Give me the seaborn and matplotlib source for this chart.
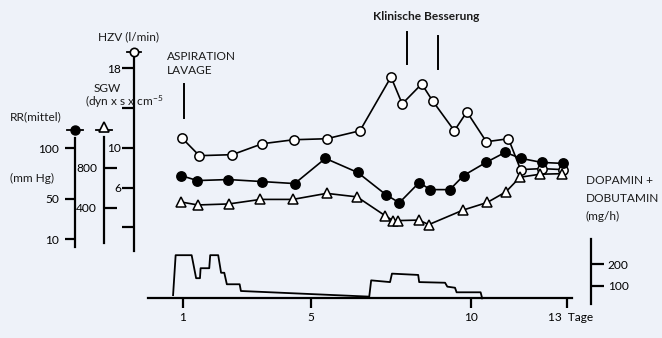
import matplotlib
matplotlib.use('Agg')
import matplotlib.pyplot as plt
import matplotlib.transforms as mtransforms
import seaborn as sns

# Werte (Tag, Wert)
hzv_day = [0.96, 1.51, 2.54, 3.48, 4.46, 5.49, 6.53, 7.50, 7.85, 8.46, 8.80,
           9.48, 9.87, 10.48, 11.17, 11.55, 12.21, 12.87]
hzv = [11.0, 9.2, 9.3, 10.4, 10.8, 10.9, 11.7, 17.1, 14.4, 16.4, 14.7,
       11.7, 13.6, 10.6, 10.9, 7.8, 7.9, 7.8]

rr_day = [0.93, 1.45, 2.42, 3.47, 4.49, 5.45, 6.46, 7.34, 7.76, 8.38, 8.73,
          9.34, 9.77, 10.47, 11.07, 11.56, 12.21, 12.88]
rr = [73, 68, 69, 67, 65, 90, 76, 54, 46, 66, 59, 59, 73, 86, 96, 90, 86, 85]

sgw_day = [0.93, 1.46, 2.43, 3.42, 4.43, 5.49, 6.44, 7.31, 7.56, 7.73, 8.37,
           8.68, 9.76, 10.51, 11.09, 11.53, 12.16, 12.83]
sgw = [460, 430, 440, 485, 485, 545, 510, 325, 275, 275, 280, 235, 380,
       455, 560, 705, 735, 740]

dose_day = [0.69, 0.77, 1.27, 1.41, 1.53, 1.55, 1.82, 1.85, 2.10, 2.19, 2.29,
            2.37, 2.77, 2.81, 6.82, 6.88, 7.47, 7.53, 8.35, 8.38, 9.19, 9.26,
            9.50, 9.55, 10.30, 10.35]
dose = [58, 242, 242, 136, 136, 182, 182, 242, 242, 161, 161, 108, 108, 77,
        51, 126, 118, 157, 151, 118, 115, 97, 92, 71, 71, 43]

# Ereignisse (Tag, HZV von, HZV bis)
event_day = [1.04, 8.01, 8.98]
event_lo = [13.0, 18.4, 17.9]
event_hi = [16.4, 21.6, 21.2]

day_ticks = [1, 5, 10, 13]
day_labels = ['1', '5', '10', '13  Tage']
hzv_ticks = [2, 6, 10, 14, 18]
hzv_labels = ['', '6', '10', '', '18']
rr_ticks = [10, 50, 100]
sgw_ticks = [400, 800]
dose_ticks = [100, 200]

BG = '#eef2f9'
W, H = 662, 338
FS = 8.6

plt.rcParams['font.family'] = ['Lato', 'DejaVu Sans']
plt.rcParams['mathtext.default'] = 'regular'

fig = plt.figure(figsize=(W / 100, H / 100), dpi=100, facecolor=BG)


def dx(px):
    # Pixelspalte -> Tag
    return (px - 183) / 32 + 1


def layer(zero_px, ppu):
    ax = fig.add_axes([0, 0, 1, 1])
    ax.set_xlim(dx(0), dx(W))
    ax.set_ylim((zero_px - H) / ppu, zero_px / ppu)
    ax.patch.set_visible(False)
    for s in ax.spines.values():
        s.set_visible(False)
        s.set_linewidth(1.6)
    ax.set_xticks([])
    ax.set_yticks([])
    return ax


def fxy(x, y):
    return x / W, 1 - y / H


ax_h = layer(247.3, 9.96)
ax_r = layer(249.1, 1.008)
ax_s = layer(248.3, 0.1008)
ax_d = layer(307.7, 0.217)

line_kw = dict(color='k', linewidth=1.2, estimator=None, sort=False,
               markeredgecolor='k', markeredgewidth=1.1)

# Kurven
sns.lineplot(x=hzv_day, y=hzv, ax=ax_h, marker='o', markersize=6.7,
             markerfacecolor='white', **line_kw)
sns.lineplot(x=rr_day, y=rr, ax=ax_r, marker='o', markersize=6.7,
             markerfacecolor='k', **line_kw)
sns.lineplot(x=sgw_day, y=sgw, ax=ax_s, marker='^', markersize=6.5,
             markerfacecolor='white', **line_kw)
sns.lineplot(x=dose_day, y=dose, ax=ax_d, color='k', linewidth=1.3,
             estimator=None, sort=False)

for d, lo, hi in zip(event_day, event_lo, event_hi):
    ax_h.plot([d, d], [lo, hi], color='k', lw=1.4)

# HZV-Achse
sp = ax_h.spines['left']
sp.set_visible(True)
sp.set_position(('data', dx(134)))
sp.set_bounds(-0.4, 19.0)
ax_h.set_yticks(hzv_ticks, hzv_labels)
ax_h.tick_params(axis='y', direction='out', length=8.5, width=1.6, pad=1,
                 labelsize=FS)
ax_h.plot([dx(127), dx(141)], [19.6, 19.6], color='k', lw=1.3)
ax_h.plot([dx(134)], [19.6], marker='o', ms=6, mfc='white', mec='k', mew=1.2)

# RR-Achse
sp = ax_r.spines['left']
sp.set_visible(True)
sp.set_position(('data', dx(75)))
sp.set_bounds(2, 110)
ax_r.set_yticks(rr_ticks, [str(t) for t in rr_ticks])
ax_r.tick_params(axis='y', direction='out', length=7.5, width=1.6, pad=4,
                 labelsize=FS)
ax_r.plot([dx(67), dx(83)], [118, 118], color='k', lw=1.3)
ax_r.plot([dx(75)], [118], marker='o', ms=6.5, mfc='k', mec='k')

# SGW-Achse
sp = ax_s.spines['left']
sp.set_visible(True)
sp.set_position(('data', dx(104)))
sp.set_bounds(50, 1104)
ax_s.set_yticks(sgw_ticks, [str(t) for t in sgw_ticks])
ax_s.tick_params(axis='y', direction='in', length=9, width=1.6, pad=5,
                 labelsize=FS)
ax_s.plot([dx(96), dx(112)], [1175, 1175], color='k', lw=1.3)
ax_s.plot([dx(104)], [1200], marker='^', ms=6.5, mfc='white', mec='k', mew=1.2)

# Dosis-Achse und Tage
sp = ax_d.spines['right']
sp.set_visible(True)
sp.set_position(('data', dx(591)))
sp.set_bounds(15, 318)
ax_d.yaxis.tick_right()
ax_d.set_yticks(dose_ticks, [str(t) for t in dose_ticks])
ax_d.tick_params(axis='y', direction='out', length=9, width=1.6, pad=3,
                 labelsize=FS)
sp = ax_d.spines['bottom']
sp.set_visible(True)
sp.set_position(('data', 43.3))
sp.set_bounds(dx(148), dx(572))
ax_d.set_xticks(day_ticks, day_labels)
ax_d.tick_params(axis='x', direction='out', length=7, width=1.6, pad=3,
                 labelsize=FS)
last = ax_d.get_xticklabels()[-1]
last.set_transform(last.get_transform() +
                   mtransforms.ScaledTranslation(4 / 100, 0, fig.dpi_scale_trans))

# Beschriftungen
txt = dict(fontsize=FS, color='#1a1a1a', va='center')
fig.text(*fxy(128.5, 37), 'HZV (l/min)', ha='center', **txt)
fig.text(*fxy(107.5, 89), 'SGW', ha='center', **txt)
fig.text(*fxy(85, 102), '(dyn x s x cm$^{-5}$', ha='left', **txt)
fig.text(*fxy(10, 117), 'RR(mittel)', ha='left', **txt)
fig.text(*fxy(10, 178), '(mm Hg)', ha='left', **txt)
fig.text(*fxy(167, 56), 'ASPIRATION', ha='left', **txt)
fig.text(*fxy(167, 70), 'LAVAGE', ha='left', **txt)
fig.text(*fxy(373, 17), 'Klinische Besserung', ha='left', fontweight='bold', **txt)
fig.text(*fxy(586, 180), 'DOPAMIN +', ha='left', **txt)
fig.text(*fxy(586, 198), 'DOBUTAMIN', ha='left', **txt)
fig.text(*fxy(586, 216), '(mg/h)', ha='left', **txt)

fig.savefig('out.png', dpi=100, facecolor=BG)
